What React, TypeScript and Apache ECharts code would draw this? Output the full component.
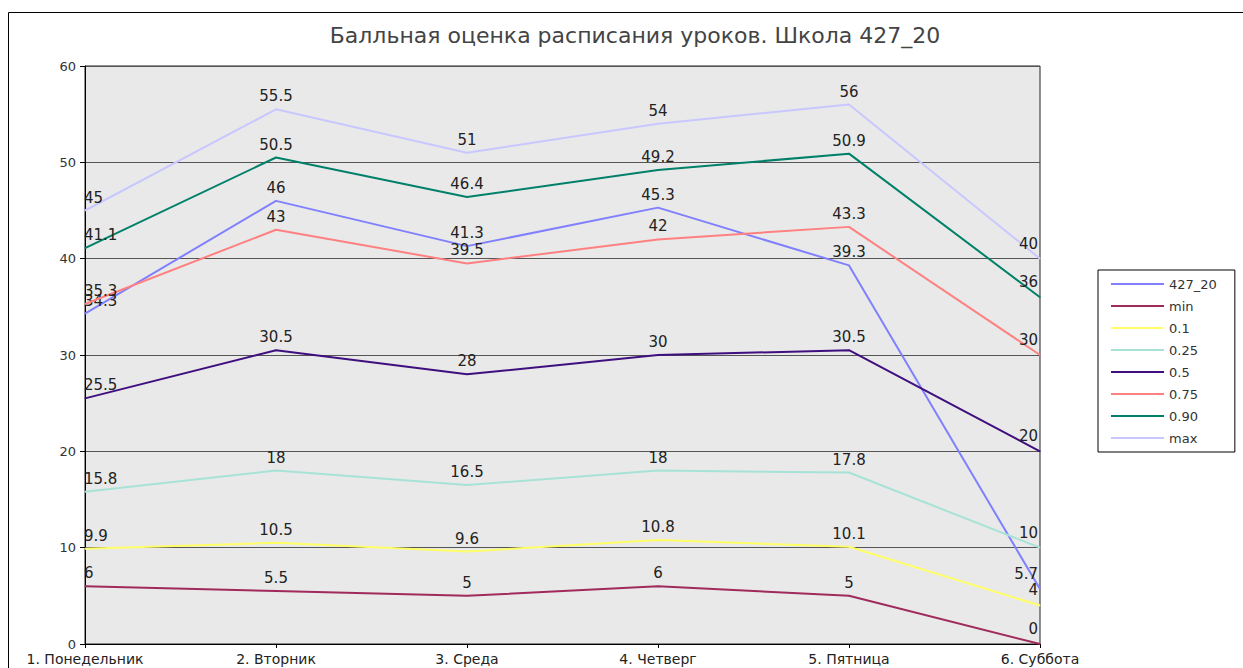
import React, { useEffect, useRef } from "react";
import * as echarts from "echarts";

const titleText = "Балльная оценка расписания уроков. Школа 427_20";
const categories = ["1. Понедельник", "2. Вторник", "3. Среда", "4. Четверг", "5. Пятница", "6. Суббота"];

const seriesNames = ["427_20", "min", "0.1", "0.25", "0.5", "0.75", "0.90", "max"];
const s427 = [34.3, 46, 41.3, 45.3, 39.3, 5.7];
const sMin = [6, 5.5, 5, 6, 5, 0];
const s01 = [9.9, 10.5, 9.6, 10.8, 10.1, 4];
const s025 = [15.8, 18, 16.5, 18, 17.8, 10];
const s05 = [25.5, 30.5, 28, 30, 30.5, 20];
const s075 = [35.3, 43, 39.5, 42, 43.3, 30];
const s090 = [41.1, 50.5, 46.4, 49.2, 50.9, 36];
const sMax = [45, 55.5, 51, 54, 56, 40];
const seriesValues = [s427, sMin, s01, s025, s05, s075, s090, sMax];
const seriesColors = ["#8080ff", "#a02a5c", "#ffff66", "#a6e3d6", "#3f0f7f", "#ff8080", "#00806a", "#c8c8ff"];

const FONT = "DejaVu Sans";

function buildData(values: number[]) {
  const last = values.length - 1;
  return values.map((v, i) => {
    if (i === 0) {
      return { value: v, label: { align: "left", offset: [-1, 0] } };
    }
    if (i === last) {
      return { value: v, label: { align: "right", offset: [-2, -2] } };
    }
    return { value: v };
  });
}

export default function App() {
  const ref = useRef<HTMLDivElement>(null);
  useEffect(() => {
    if (!ref.current) return;
    const chart = echarts.init(ref.current, null, { renderer: "svg" });
    chart.setOption({
      animation: false,
      backgroundColor: "#ffffff",
      title: {
        text: titleText,
        left: 630,
        textAlign: "center",
        top: 19,
        textStyle: { fontFamily: FONT, fontSize: 22, fontWeight: "normal", color: "#444" },
      },
      graphic: [
        {
          type: "rect",
          shape: { x: 8.5, y: 12.5, width: 1260, height: 700 },
          style: { fill: "none", stroke: "#000", lineWidth: 1 },
          silent: true,
        },
      ],
      legend: {
        orient: "vertical",
        left: 1098,
        top: 270,
        padding: [6, 18, 6, 12],
        itemWidth: 53,
        itemHeight: 14,
        itemGap: 6,
        borderColor: "#000",
        borderWidth: 1,
        backgroundColor: "#fff",
        data: seriesNames,
        itemStyle: { opacity: 0 },
        textStyle: { fontFamily: FONT, fontSize: 13, color: "#333", lineHeight: 16 },
      },
      grid: {
        left: 85,
        top: 66,
        right: 203,
        bottom: 24,
        show: true,
        backgroundColor: "#e9e9e9",
        borderColor: "#222",
        borderWidth: 1,
      },
      xAxis: {
        type: "category",
        data: categories,
        boundaryGap: false,
        axisLine: { lineStyle: { color: "#000" } },
        axisTick: { show: true, length: 4, lineStyle: { color: "#000" } },
        axisLabel: { fontFamily: FONT, fontSize: 14, color: "#222", margin: 8 },
      },
      yAxis: {
        type: "value",
        min: 0,
        max: 60,
        interval: 10,
        axisLine: { show: true, lineStyle: { color: "#000" } },
        axisTick: { show: true, length: 5, lineStyle: { color: "#000" } },
        axisLabel: { fontFamily: FONT, fontSize: 13, color: "#333", margin: 9 },
        splitLine: { show: true, lineStyle: { color: "#555", width: 1 } },
      },
      series: seriesNames.map((name, idx) => ({
        name,
        type: "line",
        data: buildData(seriesValues[idx]),
        symbol: "circle",
        symbolSize: 1,
        showSymbol: true,
        lineStyle: { color: seriesColors[idx], width: 2 },
        itemStyle: { color: seriesColors[idx] },
        label: {
          show: true,
          position: "top",
          distance: 5,
          fontFamily: FONT,
          fontSize: 15,
          color: "#222",
        },
        z: 2 + idx,
      })),
    });
    return () => chart.dispose();
  }, []);
  return (
    <div
      ref={ref}
      style={{ position: "fixed", left: 0, top: 0, width: 1243, height: 668, background: "#fff" }}
    />
  );
}
